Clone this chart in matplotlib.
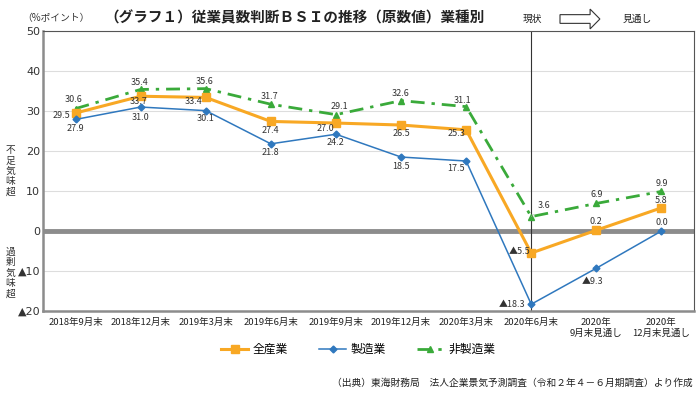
import numpy as np
import matplotlib
matplotlib.use("Agg")
import matplotlib.pyplot as plt
from matplotlib.patches import FancyArrow

plt.rcParams['font.family'] = ['Noto Sans CJK JP', 'DejaVu Sans']

# categories and series (BSI, % points)
categories = ["2018年9月末", "2018年12月末", "2019年3月末", "2019年6月末", "2019年9月末",
              "2019年12月末", "2020年3月末", "2020年6月末", "2020年\n9月末見通し", "2020年\n12月末見通し"]
all_ind = [29.5, 33.7, 33.4, 27.4, 27.0, 26.5, 25.3, -5.5, 0.2, 5.8]
mfg = [27.9, 31.0, 30.1, 21.8, 24.2, 18.5, 17.5, -18.3, -9.3, 0.0]
non_mfg = [30.6, 35.4, 35.6, 31.7, 29.1, 32.6, 31.1, 3.6, 6.9, 9.9]
yticks = [-20, -10, 0, 10, 20, 30, 40, 50]

c_all = "#F8A824"
c_mfg = "#2F78BE"
c_non = "#3AAA3A"


def fmt(v):
    return ("▲%.1f" % -v) if v < 0 else "%.1f" % v


fig = plt.figure(figsize=(7, 3.96), dpi=100)
ax = fig.add_axes([0.0614, 0.2146, 0.93, 0.707])
x = np.arange(len(categories))

for y in yticks:
    if y != 0:
        ax.axhline(y, color="#dddddd", lw=0.8, zorder=0)
ax.axhline(0, color="#8c8c8c", lw=3.5, zorder=1)
ax.axvline(7, color="#333333", lw=0.8, zorder=1)

ax.plot(x, non_mfg, color=c_non, lw=2.0, ls=(0, (5, 2.5, 1.2, 2.5)), marker="^", ms=5,
        zorder=3, label="非製造業")
ax.plot(x, all_ind, color=c_all, lw=2.2, marker="s", ms=6, zorder=4, label="全産業")
ax.plot(x, mfg, color=c_mfg, lw=1.1, marker="D", ms=3.5, zorder=5, label="製造業")

# label offsets in pixels (dx, dy), plus alignment
off_all = [(-5, -2, "right"), (-2, -5, "center"), (-12, -4, "center"), (0, -9, "center"),
           (-10, -5, "center"), (0, -8, "center"), (-10, -4, "center"), (-1, 2, "right"),
           (0, 9, "center"), (0, 7, "center")]
off_mfg = [(0, -9, "center"), (0, -10, "center"), (0, -8, "center"), (0, -9, "center"),
           (0, -8, "center"), (0, -9, "center"), (-10, -7, "center"), (-6, 0, "right"),
           (-4, -13, "center"), (0, 9, "center")]
off_non = [(-2, 9, "center"), (-1, 7, "center"), (-1, 7, "center"), (-1, 8, "center"),
           (3, 8, "center"), (0, 7, "center"), (-4, 6, "center"), (13, 11, "center"),
           (0, 9, "center"), (0, 8, "center")]
for vals, offs in [(all_ind, off_all), (mfg, off_mfg), (non_mfg, off_non)]:
    for i, v in enumerate(vals):
        dx, dy, ha = offs[i]
        props = None
        if vals is non_mfg and i == 7:
            props = dict(arrowstyle="-", color="#999999", lw=0.5, shrinkA=2, shrinkB=3)
        ax.annotate(fmt(v), (i, v), xytext=(dx, dy), textcoords="offset pixels",
                    ha=ha, va="center", fontsize=6.5, color="#333333", zorder=6,
                    arrowprops=props)

ax.set_xlim(-0.5, 9.5)
ax.set_ylim(-20, 50)
ax.set_yticks(yticks)
ax.set_yticklabels([fmt(v).replace(".0", "") for v in yticks], fontsize=8, color="#333333",
                   family=['DejaVu Sans'])
ax.set_xticks(x)
ax.set_xticklabels(categories, fontsize=6.8, color="#222222", linespacing=1.2)
ax.tick_params(length=0, pad=5)
ax.tick_params(axis="y", pad=2)
for s in ["left", "bottom"]:
    ax.spines[s].set_color("#8c8c8c")
    ax.spines[s].set_linewidth(1.8)
for s in ["top", "right"]:
    ax.spines[s].set_color("#555555")
    ax.spines[s].set_linewidth(0.8)

# vertical side captions, one character at a time
for j, ch in enumerate("不足気味超"):
    fig.text(0.0145, 1 - (150 + j * 10.4) / 396, ch, fontsize=7, color="#333333",
             ha="center", va="center")
for j, ch in enumerate("過剰気味超"):
    fig.text(0.0145, 1 - (252 + j * 10.4) / 396, ch, fontsize=7, color="#333333",
             ha="center", va="center")

fig.text(0.032, 0.955, "（%ポイント）", fontsize=7, color="#333333", va="center")
fig.text(0.421, 0.955, "（グラフ１）従業員数判断ＢＳＩの推移（原数値）業種別", fontsize=10.5,
         fontweight="bold", color="#222222", ha="center", va="center")
fig.text(0.76, 0.952, "現状", fontsize=7, color="#222222", ha="center", va="center")
fig.text(0.911, 0.952, "見通し", fontsize=7, color="#222222", ha="center", va="center")
fig.patches.append(FancyArrow(
    0.8, 0.952, 0.057, 0, width=0.022, head_width=0.05, head_length=0.014,
    length_includes_head=True, transform=fig.transFigure, fc="white", ec="#333333", lw=0.8))

h, l = ax.get_legend_handles_labels()
order = [1, 2, 0]
fig.legend([h[i] for i in order], [l[i] for i in order], loc="center", ncol=3,
           bbox_to_anchor=(0.512, 0.118), frameon=False, fontsize=8.5, handlelength=2.3,
           handletextpad=0.4, columnspacing=2.6)

fig.text(0.99, 0.032, "（出典）東海財務局　法人企業景気予測調査（令和２年４－６月期調査）より作成",
         fontsize=7, color="#222222", ha="right", va="center")

fig.savefig("out.png", dpi=100)
